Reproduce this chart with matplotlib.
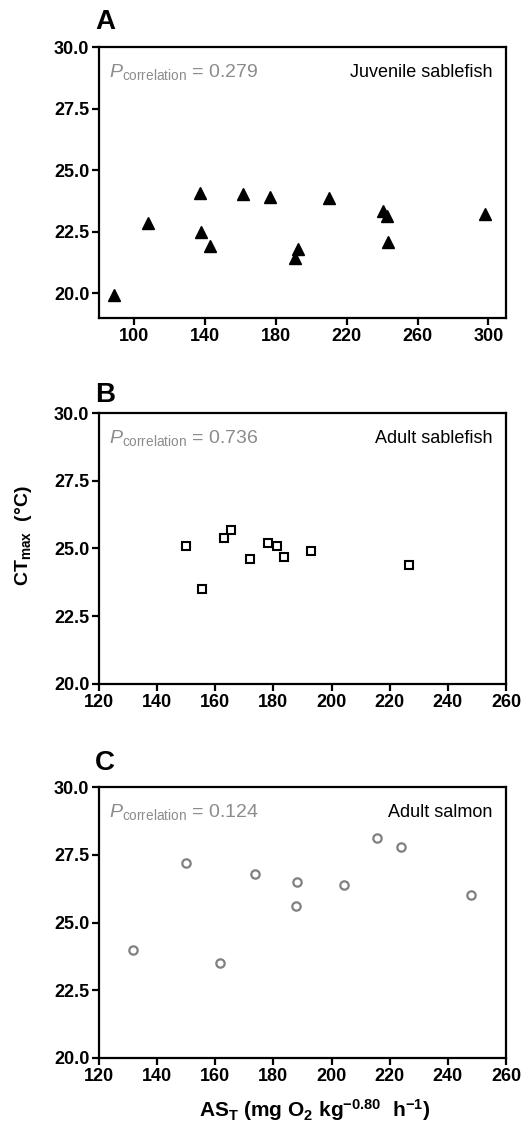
import numpy as np
import matplotlib
matplotlib.use("Agg")
import matplotlib.pyplot as plt

plt.rcParams['font.family'] = ['Liberation Sans', 'DejaVu Sans']
plt.rcParams['mathtext.fontset'] = 'custom'
plt.rcParams['mathtext.rm'] = 'Liberation Sans'
plt.rcParams['mathtext.it'] = 'Liberation Sans:italic'
plt.rcParams['mathtext.bf'] = 'Liberation Sans:bold'

# Panel A - juvenile sablefish
juv_as = [88.7, 107.9, 136.8, 137.9, 142.5, 161.3, 176.4, 190.6, 192.7, 210.0, 240.4, 242.5, 243.4, 298.0]
juv_ct = [19.95, 22.87, 24.09, 22.51, 21.92, 24.02, 23.92, 21.42, 21.79, 23.86, 23.33, 23.13, 22.09, 23.22]

# Panel B - adult sablefish
adult_sf_as = [149.9, 155.3, 163.0, 165.3, 171.8, 178.0, 181.1, 183.6, 193.0, 226.5]
adult_sf_ct = [25.10, 23.50, 25.40, 25.70, 24.60, 25.20, 25.10, 24.70, 24.90, 24.40]

# Panel C - adult salmon
salmon_as = [131.7, 149.8, 161.6, 173.6, 187.7, 188.0, 204.3, 215.5, 223.9, 247.9]
salmon_ct = [24.00, 27.20, 23.50, 26.80, 25.60, 26.50, 26.40, 28.10, 27.80, 26.00]

p_values = ["0.279", "0.736", "0.124"]
groups = ["Juvenile sablefish", "Adult sablefish", "Adult salmon"]
letters = ["A", "B", "C"]

W, H = 524, 1129
fig = plt.figure(figsize=(W / 100, H / 100), dpi=100)

def px_axes(left, top, right, bottom):
    return fig.add_axes([left / W, 1 - bottom / H, (right - left) / W, (bottom - top) / H])

axA = px_axes(99, 47, 506, 318)
axB = px_axes(99, 413, 506, 684)
axC = px_axes(99, 787, 506, 1058)

axA.plot(juv_as, juv_ct, linestyle='none', marker='^', ms=8, color='black')
axB.plot(adult_sf_as, adult_sf_ct, linestyle='none', marker='s', ms=6, mfc='white',
         mec='black', mew=1.5)
axC.plot(salmon_as, salmon_ct, linestyle='none', marker='o', ms=6, mfc='white',
         mec='#808080', mew=1.6)

axA.set_xlim(80, 310)
axA.set_ylim(19, 30)
axA.set_xticks([100, 140, 180, 220, 260, 300])

for ax in (axB, axC):
    ax.set_xlim(120, 260)
    ax.set_ylim(20, 30)
    ax.set_xticks(np.arange(120, 261, 20))

for ax, p, g in zip((axA, axB, axC), p_values, groups):
    ax.set_yticks([20, 22.5, 25, 27.5, 30])
    ax.set_yticklabels(["20.0", "22.5", "25.0", "27.5", "30.0"])
    for s in ax.spines.values():
        s.set_linewidth(1.6)
    ax.tick_params(direction='out', length=5, width=1.6, labelsize=13, pad=2)
    for lab in ax.get_xticklabels() + ax.get_yticklabels():
        lab.set_fontweight('bold')
    ax.text(0.024, 0.888, r'$\it{P}_{\rm correlation}$ = ' + p, transform=ax.transAxes,
            fontsize=14, color='#8c8c8c', ha='left', va='baseline')
    ax.text(0.966, 0.888, g, transform=ax.transAxes, fontsize=13, color='black',
            ha='right', va='baseline')

for letter, y in zip(letters, [29, 402, 770]):
    fig.text(95 / W, 1 - y / H, letter, fontsize=20, fontweight='bold', va='baseline')

axB.set_ylabel(r'CT$_{\mathbf{max}}$  (°C)', fontsize=14, fontweight='bold')
axB.yaxis.set_label_coords(-0.16, 0.546)
axC.set_xlabel(r'AS$_{\mathbf{T}}$ (mg O$_{\mathbf{2}}$ kg$^{\mathbf{-0.80}}$  h$^{\mathbf{-1}}$)',
               fontsize=15, fontweight='bold')
axC.xaxis.set_label_coords(0.53, -0.145)

fig.savefig("out.png", dpi=100)
